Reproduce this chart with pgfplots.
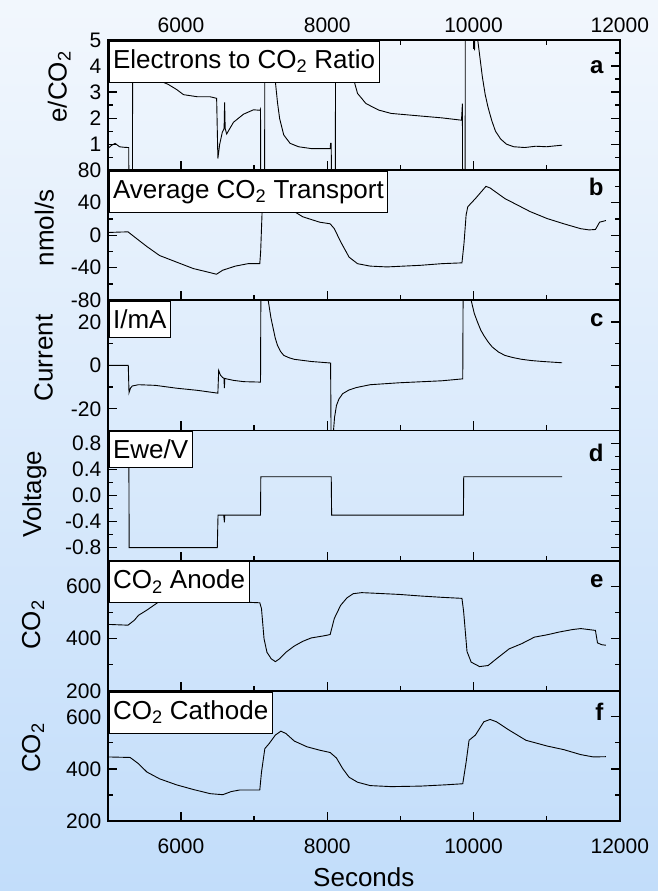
\documentclass[border=0pt]{standalone}
\usepackage{fontspec}
\setmainfont{Liberation Sans}
\usepackage{pgfplots}
\pgfplotsset{compat=1.18}
\definecolor{bgtop}{RGB}{242,247,253}
\definecolor{bgbot}{RGB}{194,221,250}

\pgfplotsset{
 panel/.style={
   width=512pt, height=130.2pt, scale only axis,
   anchor=south west,
   xmin=5000, xmax=12000,
   xtick={6000,8000,10000,12000},
   minor xtick={7000,9000,11000},
   scaled x ticks=false, scaled y ticks=false,
   tick align=inside,
   major tick length=9pt, minor tick length=5pt,
   every tick/.style={black, line width=1.2pt},
   axis line style={line width=1.8pt},
   ytick pos=both, yticklabel pos=left,
   xtick pos=lower,
   xticklabels={},
   xticklabel shift=6pt,
   yticklabel shift=3pt,
   /pgf/number format/assume math mode=true,
   /pgf/number format/set thousands separator={},
   tick label style={font=\fontsize{21}{24}\selectfont},
   label style={font=\fontsize{26}{29}\selectfont},
 },
}
\tikzset{
 tbox/.style={draw, fill=white, line width=0.8pt, anchor=north west, xshift=0.9pt, yshift=-0.9pt,
   inner xsep=4pt, inner ysep=8pt, text height=19pt, text depth=6pt, font=\fontsize{26}{29}\selectfont},
 tboxs/.style={tbox, text depth=1pt},
 letter/.style={anchor=east, font=\bfseries\fontsize{24}{27}\selectfont},
 crv/.style={black, line width=0.9pt},
 ylab/.style={rotate=90, anchor=base, inner sep=0pt, font=\fontsize{26}{29}\selectfont},
}

\begin{document}
\begin{tikzpicture}
\shade[top color=bgtop, bottom color=bgbot] (0,0) rectangle (658pt,891pt);

% ---------------- panel a
\begin{axis}[panel, at={(107.8pt,720.8pt)},
  ymin=0, ymax=5, ytick={0,1,2,3,4,5}, yticklabels={,1,2,3,4,5},
  minor ytick={0.5,1.5,2.5,3.5,4.5},
  xtick pos=both, xticklabel pos=upper, xticklabels={6000,8000,10000,12000},
  xticklabel shift=4pt]
\addplot[crv] coordinates {(5000,0.83) (5050,0.95) (5100,1.03) (5160,0.9) (5220,0.88) (5286,0.87) (5289,-1) (5337,-1) (5340,6) (5450,6) (5600,3.8) (5737,3.4) (5823,3.3) (5940,3.1) (6036,2.9) (6226,2.82) (6399,2.82) (6488,2.76) (6505,0.45) (6530,1.0) (6565,1.45) (6590,1.6) (6597,2.6) (6605,1.6) (6625,1.39) (6718,1.84) (6855,2.15) (6992,2.32) (7080,2.3) (7088,2.35) (7091,-1) (7144,-1) (7147,6) (7260,6) (7275,4.3) (7291,3.4) (7320,2.6) (7349,1.99) (7406,1.35) (7493,1.03) (7608,0.9) (7781,0.83) (8040,0.83) (8046,1.03) (8055,1.03) (8058,-1) (8111,-1) (8114,6) (8300,6) (8360,3.5) (8414,2.95) (8529,2.56) (8702,2.31) (8874,2.18) (9278,2.08) (9565,2.01) (9836,1.92) (9848,2.56) (9851,-1) (9885,-1) (9888,6) (10005,6) (10014,4.6) (10020,6) (10040,5.4) (10080,4.5) (10120,3.6) (10160,2.9) (10200,2.4) (10250,1.9) (10300,1.5) (10370,1.2) (10450,1.0) (10550,0.9) (10700,0.87) (10850,0.92) (11000,0.9) (11100,0.93) (11212,0.96)};
\node[tbox] at (rel axis cs:0,1) {Electrons to CO\textsubscript{2} Ratio};
\node[letter] at (rel axis cs:0.975,0.79) {a};
\end{axis}

% ---------------- panel b
\begin{axis}[panel, at={(107.8pt,590.7pt)},
  ymin=-80, ymax=80, ytick={-80,-40,0,40,80}, minor ytick={-60,-20,20,60}]
\addplot[crv] coordinates {(5000,3.3) (5150,3.8) (5276,4.1) (5420,-6) (5535,-14) (5708,-25) (5938,-33) (6169,-41) (6399,-46) (6485,-48) (6572,-43) (6744,-38) (6917,-35) (7078,-35) (7090,-20) (7110,30) (7200,50) (7350,55) (7500,40) (7550,29) (7666,22.6) (7896,16) (8040,14) (8097,8) (8183,-8) (8299,-27) (8414,-35) (8587,-38) (8817,-39) (9278,-37) (9565,-35) (9842,-34) (9870,-10) (9899,25) (9922,35) (10026,45) (10170,60) (10227,58) (10429,45) (10602,37) (10774,29) (11005,20.5) (11235,14) (11465,8) (11580,6.5) (11667,7) (11724,16) (11810,18)};
\node[tbox] at (rel axis cs:0,1) {Average CO\textsubscript{2} Transport};
\node[letter] at (rel axis cs:0.975,0.87) {b};
\end{axis}

% ---------------- panel c
\begin{axis}[panel, at={(107.8pt,460.5pt)},
  ymin=-30, ymax=30, ytick={-20,0,20}, minor ytick={-30,-10,10,30}]
\addplot[crv] coordinates {(5000,0) (5280,0) (5290,-12.6) (5310,-10.5) (5334,-9.5) (5420,-8.9) (5651,-9.2) (5938,-10.5) (6226,-11.5) (6505,-12.8) (6516,-2.3) (6540,-4.5) (6570,-5.6) (6588,-6) (6594,-10.5) (6600,-6) (6622,-6.2) (6718,-6.9) (6860,-7.5) (7088,-7.7) (7093,35) (7185,35) (7193,30) (7230,22) (7262,16.9) (7290,12.5) (7320,9.2) (7360,6.5) (7406,4.6) (7480,3.5) (7550,2.8) (7781,1.8) (8046,1.1) (8053,-35) (8082,-35) (8086,-30) (8100,-24) (8126,-18.5) (8160,-15.5) (8212,-13) (8300,-11.3) (8400,-10.2) (8587,-8.9) (8990,-8) (9565,-7.1) (9853,-6.2) (9858,35) (9955,35) (9968,30) (10010,24) (10054,20) (10100,16.2) (10141,13.8) (10200,10.8) (10256,8.5) (10340,6.2) (10429,4.6) (10540,3.6) (10659,2.8) (10800,2.2) (10947,1.8) (11212,1.2)};
\node[tboxs] at (rel axis cs:0,1) {I/mA};
\node[letter] at (rel axis cs:0.975,0.85) {c};
\end{axis}

% ---------------- panel d
\begin{axis}[panel, at={(107.8pt,330.3pt)},
  ymin=-1, ymax=1, ytick={-0.8,-0.4,0,0.4,0.8}, minor ytick={-1,-0.6,-0.2,0.2,0.6,1},
  yticklabel style={/pgf/number format/.cd, fixed, fixed zerofill, precision=1}]
\addplot[crv] coordinates {(5000,0.6) (5288,0.6) (5292,-0.8) (6497,-0.8) (6507,-0.3) (6585,-0.3) (6594,-0.41) (6600,-0.3) (7088,-0.3) (7092,0.29) (8055,0.29) (8060,-0.3) (9862,-0.3) (9866,0.29) (11212,0.29)};
\node[tboxs] at (rel axis cs:0,1) {Ewe/V};
\node[letter] at (rel axis cs:0.975,0.83) {d};
\end{axis}

% ---------------- panel e
\begin{axis}[panel, at={(107.8pt,200.2pt)},
  ymin=200, ymax=700, ytick={200,400,600}, minor ytick={300,500,700}]
\addplot[crv] coordinates {(5000,455) (5276,452) (5363,471) (5420,490) (5535,510) (5679,538) (5800,560) (6000,570) (6500,565) (6906,540) (7078,538) (7101,516) (7136,400) (7176,348) (7234,323) (7291,312) (7349,323) (7435,348) (7550,372) (7666,390) (7781,403) (7953,411) (8040,416) (8097,478) (8183,528) (8270,557) (8356,573) (8471,577) (8702,574) (8990,570) (9278,564) (9565,559) (9842,555) (9865,504) (9911,351) (9968,310) (10083,293) (10199,297) (10314,323) (10487,361) (10659,381) (10832,406) (11005,415) (11177,426) (11350,435) (11465,439) (11667,432) (11695,384) (11753,377) (11810,375)};
\node[tbox] at (rel axis cs:0,1) {CO\textsubscript{2} Anode};
\node[letter] at (rel axis cs:0.975,0.84) {e};
\end{axis}

% ---------------- panel f
\begin{axis}[panel, at={(107.8pt,70pt)},
  ymin=200, ymax=700, ytick={200,400,600}, minor ytick={300,500,700},
  xticklabels={6000,8000,10000,12000},
  xticklabel shift=14pt,
  xlabel={Seconds},
  xlabel style={yshift=-7pt}]
\addplot[crv] coordinates {(5000,446) (5305,444) (5420,420) (5535,388) (5708,362) (5938,339) (6169,321) (6399,305) (6572,301) (6687,313) (6802,319) (7078,319) (7101,387) (7147,478) (7205,497) (7291,530) (7366,545) (7435,536) (7550,507) (7723,485) (7896,472) (8040,463) (8126,442) (8212,401) (8299,368) (8414,349) (8587,336) (8874,332) (9278,334) (9623,339) (9853,343) (9899,426) (9939,510) (10026,530) (10141,581) (10227,590) (10314,581) (10487,549) (10717,510) (11005,488) (11235,474) (11465,455) (11638,446) (11810,447)};
\node[tbox] at (rel axis cs:0,1) {CO\textsubscript{2} Cathode};
\node[letter] at (rel axis cs:0.975,0.84) {f};
\end{axis}

% ---------------- y axis titles
\node[ylab] at (66.5pt,804pt) {e/CO\textsubscript{2}};
\node[ylab] at (53.5pt,663pt) {nmol/s};
\node[ylab] at (52.5pt,533pt) {Current};
\node[ylab] at (41pt,397pt) {Voltage};
\node[ylab] at (40pt,266pt) {CO\textsubscript{2}};
\node[ylab] at (40pt,143pt) {CO\textsubscript{2}};

\pgfresetboundingbox
\path[use as bounding box] (0,0) rectangle (658pt,891pt);
\end{tikzpicture}
\end{document}
